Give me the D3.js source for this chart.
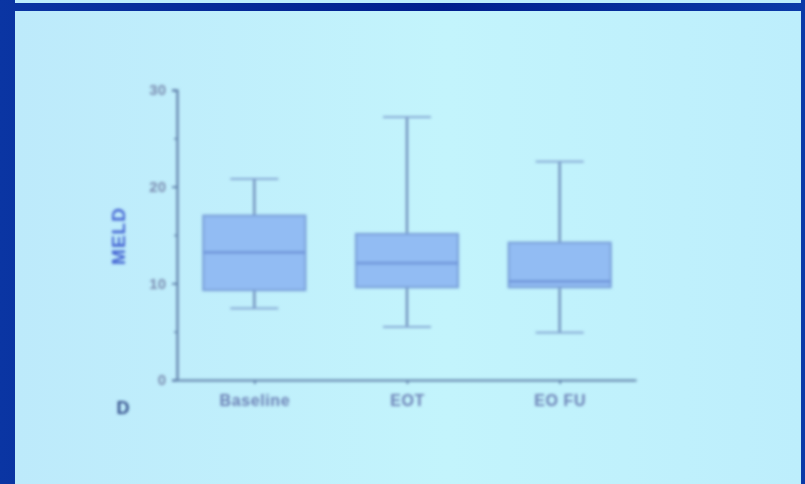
<!DOCTYPE html>
<html>
<head>
<meta charset="utf-8">
<script src="https://cdn.jsdelivr.net/npm/d3@7"></script>
<style>
  html, body { margin: 0; padding: 0; background: #0a2e9c; }
  svg { display: block; }
</style>
</head>
<body>
<svg id="chart" width="805" height="484"></svg>
<script>
// MELD score distribution per time point
const categories   = ["Baseline", "EOT", "EO FU"];
const whiskerLow   = [7.4, 5.5, 4.9];
const quartile1    = [9.3, 9.6, 9.6];
const medians      = [13.2, 12.1, 10.2];
const quartile3    = [17.0, 15.1, 14.2];
const whiskerHigh  = [20.8, 27.2, 22.6];
const yMajorTicks  = [0, 10, 20, 30];
const yMinorTicks  = [5, 15, 25];
const yTitle = "MELD";
const panelLetter = "D";

const svg = d3.select("#chart");
const W = 805, H = 484;
const font = "Liberation Sans, Arial, sans-serif";

// slide frame
const defs = svg.append("defs");
const frameGrad = defs.append("linearGradient").attr("id", "frameGrad").attr("x1", 0).attr("x2", 1);
frameGrad.append("stop").attr("offset", "0%").attr("stop-color", "#0a35a3");
frameGrad.append("stop").attr("offset", "55%").attr("stop-color", "#001f8e");
frameGrad.append("stop").attr("offset", "100%").attr("stop-color", "#0a3aa8");
const panelGrad = defs.append("linearGradient").attr("id", "panelGrad").attr("x1", 0).attr("x2", 1);
panelGrad.append("stop").attr("offset", "0%").attr("stop-color", "#bdeafb");
panelGrad.append("stop").attr("offset", "55%").attr("stop-color", "#c3f4fc");
panelGrad.append("stop").attr("offset", "100%").attr("stop-color", "#bdeefc");
defs.append("filter").attr("id", "soft")
  .attr("x", "-5%").attr("y", "-5%").attr("width", "110%").attr("height", "110%")
  .append("feGaussianBlur").attr("stdDeviation", 1.5);

svg.append("rect").attr("width", W).attr("height", H).attr("fill", "url(#frameGrad)");
svg.append("rect").attr("x", 15).attr("y", 0).attr("width", 786).attr("height", 3).attr("fill", "#bdeefc");
svg.append("rect").attr("x", 15).attr("y", 11).attr("width", 786).attr("height", H - 11).attr("fill", "url(#panelGrad)");

const g = svg.append("g").attr("filter", "url(#soft)");

const y = d3.scaleLinear().domain([0, 30]).range([380, 90]);
const x = d3.scalePoint().domain(categories).range([178, 636]).padding(0.5);
const boxW = 102, capW = 48;

const axisColor = "#5a7aa6";
const textColor = "#7a8cb0";

// y axis
const yAxis = g.append("g").attr("transform", "translate(177,0)")
  .call(d3.axisLeft(y).tickValues(yMajorTicks).tickSize(5).tickPadding(6).tickFormat(d3.format("d")));
yAxis.select(".domain").attr("stroke", axisColor).attr("stroke-width", 2.2);
yAxis.selectAll(".tick line").attr("stroke", axisColor).attr("stroke-width", 1.8);
yAxis.selectAll(".tick text").attr("fill", textColor).attr("font-family", font)
  .attr("font-size", 15).attr("font-weight", 700);
g.append("g").attr("transform", "translate(177,0)")
  .call(d3.axisLeft(y).tickValues(yMinorTicks).tickSize(3).tickFormat(""))
  .call(s => s.select(".domain").remove())
  .selectAll(".tick line").attr("stroke", axisColor).attr("stroke-width", 1.4);

// x axis
const xAxis = g.append("g").attr("transform", "translate(0,380)")
  .call(d3.axisBottom(x).tickSize(4).tickSizeOuter(0).tickPadding(11));
xAxis.select(".domain").attr("stroke", axisColor).attr("stroke-width", 2.2);
xAxis.selectAll(".tick line").attr("stroke", axisColor).attr("stroke-width", 1.8);
xAxis.selectAll(".tick text").attr("fill", "#6a7eb4").attr("font-family", font)
  .attr("font-size", 16).attr("font-weight", 700).attr("letter-spacing", 0.6);

// boxes
const rows = categories.map((c, i) => ({
  c, lo: whiskerLow[i], q1: quartile1[i], med: medians[i], q3: quartile3[i], hi: whiskerHigh[i]
}));
const box = g.selectAll(".box").data(rows).join("g").attr("class", "box");
const whiskerColor = "#6786b6";
box.append("line")
  .attr("x1", d => x(d.c)).attr("x2", d => x(d.c))
  .attr("y1", d => y(d.q3)).attr("y2", d => y(d.hi))
  .attr("stroke", whiskerColor).attr("stroke-width", 2.2);
box.append("line")
  .attr("x1", d => x(d.c)).attr("x2", d => x(d.c))
  .attr("y1", d => y(d.lo)).attr("y2", d => y(d.q1))
  .attr("stroke", whiskerColor).attr("stroke-width", 2.2);
box.append("line")
  .attr("x1", d => x(d.c) - capW / 2).attr("x2", d => x(d.c) + capW / 2)
  .attr("y1", d => y(d.hi)).attr("y2", d => y(d.hi))
  .attr("stroke", "#7f9fcf").attr("stroke-width", 1.8);
box.append("line")
  .attr("x1", d => x(d.c) - capW / 2).attr("x2", d => x(d.c) + capW / 2)
  .attr("y1", d => y(d.lo)).attr("y2", d => y(d.lo))
  .attr("stroke", "#7f9fcf").attr("stroke-width", 1.8);
box.append("rect")
  .attr("x", d => x(d.c) - boxW / 2).attr("width", boxW)
  .attr("y", d => y(d.q3)).attr("height", d => y(d.q1) - y(d.q3))
  .attr("fill", "#92bcf3").attr("stroke", "#7aa0da").attr("stroke-width", 2.2);
box.append("line")
  .attr("x1", d => x(d.c) - boxW / 2).attr("x2", d => x(d.c) + boxW / 2)
  .attr("y1", d => y(d.med)).attr("y2", d => y(d.med))
  .attr("stroke", "#6f96da").attr("stroke-width", 2.8);

// axis title and panel letter
g.append("text")
  .attr("transform", "translate(125,236) rotate(-90)")
  .attr("text-anchor", "middle")
  .attr("fill", "#4262d2").attr("font-family", font)
  .attr("font-size", 19).attr("font-weight", 700).attr("letter-spacing", 1)
  .text(yTitle);
g.append("text")
  .attr("x", 123).attr("y", 414)
  .attr("text-anchor", "middle")
  .attr("fill", "#34508c").attr("font-family", font)
  .attr("font-size", 18).attr("font-weight", 700)
  .text(panelLetter);
</script>
</body>
</html>
